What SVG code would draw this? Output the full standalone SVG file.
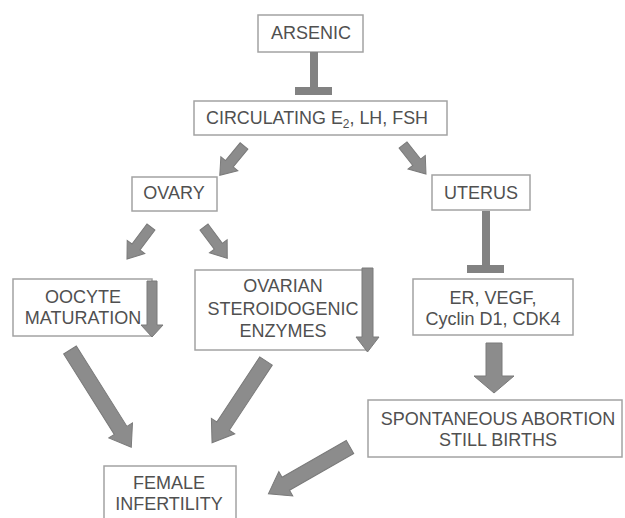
<svg xmlns="http://www.w3.org/2000/svg" width="625" height="518" viewBox="0 0 625 518">
  <style>
    .box { fill: #ffffff; stroke: #a3a3a3; stroke-width: 1.5; }
    .lbl { font-family: "Liberation Sans", Arial, sans-serif; font-size: 18px; fill: #505050; text-anchor: middle; }
    .arr { fill: #8c8c8c; stroke: #7a7a7a; stroke-width: 1; stroke-linejoin: miter; }
    .bar { fill: #828282; }
  </style>
  <rect width="625" height="518" fill="#ffffff"/>

  <!-- nodes -->
  <g id="arsenic">
    <rect class="box" x="258" y="15" width="105" height="37"/>
    <text class="lbl" x="311" y="39">ARSENIC</text>
  </g>
  <g id="circulating">
    <rect class="box" x="194" y="101" width="253" height="34"/>
    <text class="lbl" x="317" y="124" textLength="222" lengthAdjust="spacingAndGlyphs">CIRCULATING E<tspan font-size="12" dy="4">2</tspan><tspan dy="-4">, LH, FSH</tspan></text>
  </g>
  <g id="ovary">
    <rect class="box" x="132" y="177" width="85" height="34"/>
    <text class="lbl" x="174" y="199">OVARY</text>
  </g>
  <g id="uterus">
    <rect class="box" x="432" y="175" width="98" height="35"/>
    <text class="lbl" x="481" y="199">UTERUS</text>
  </g>
  <g id="oocyte">
    <rect class="box" x="13" y="279" width="139" height="57"/>
    <text class="lbl" x="83" y="303">OOCYTE</text>
    <text class="lbl" x="83" y="324">MATURATION</text>
  </g>
  <g id="ovarian">
    <rect class="box" x="195" y="270" width="172" height="80"/>
    <text class="lbl" x="283" y="292">OVARIAN</text>
    <text class="lbl" x="283" y="315">STEROIDOGENIC</text>
    <text class="lbl" x="283" y="337">ENZYMES</text>
  </g>
  <g id="er">
    <rect class="box" x="413" y="279" width="160" height="56"/>
    <text class="lbl" x="493" y="304">ER, VEGF,</text>
    <text class="lbl" x="493" y="325">Cyclin D1, CDK4</text>
  </g>
  <g id="abortion">
    <rect class="box" x="368" y="400" width="254" height="57"/>
    <text class="lbl" x="498" y="425">SPONTANEOUS ABORTION</text>
    <text class="lbl" x="498" y="446">STILL BIRTHS</text>
  </g>
  <g id="infertility">
    <rect class="box" x="104" y="466" width="132" height="70"/>
    <text class="lbl" x="169" y="489">FEMALE</text>
    <text class="lbl" x="169" y="510">INFERTILITY</text>
  </g>

  <!-- connectors -->
  <g id="connectors">
    <!-- inhibition bars -->
    <rect class="bar" x="310" y="52" width="8" height="36"/>
    <rect class="bar" x="295" y="87" width="37" height="8"/>
    <rect class="bar" x="482" y="211" width="8" height="55"/>
    <rect class="bar" x="467" y="265" width="37" height="8"/>

    <!-- block arrows: tail at origin, pointing along +x -->
    <path class="arr" transform="translate(244,146) rotate(129.6)" d="M0,-5 L23,-5 L23,-11 L38,0 L23,11 L23,5 L0,5 Z"/>
    <path class="arr" transform="translate(403,145) rotate(51.6)" d="M0,-5 L22,-5 L22,-11 L37,0 L22,11 L22,5 L0,5 Z"/>
    <path class="arr" transform="translate(151,227) rotate(126.9)" d="M0,-5 L25,-5 L25,-11 L40,0 L25,11 L25,5 L0,5 Z"/>
    <path class="arr" transform="translate(204,227) rotate(53.4)" d="M0,-5 L24,-5 L24,-11 L39,0 L24,11 L24,5 L0,5 Z"/>

    <path class="arr" transform="translate(152,281) rotate(90)" d="M0,-5 L44,-5 L44,-11 L56,0 L44,11 L44,5 L0,5 Z"/>
    <path class="arr" transform="translate(367.5,268) rotate(90)" d="M0,-5.5 L69,-5.5 L69,-11.5 L84,0 L69,11.5 L69,5.5 L0,5.5 Z"/>

    <path class="arr" transform="translate(494,343) rotate(90)" d="M0,-8 L33,-8 L33,-20 L50,0 L33,20 L33,8 L0,8 Z"/>

    <path class="arr" transform="translate(70,350) rotate(57.8)" d="M0,-7.5 L95,-7.5 L95,-14 L115,0 L95,14 L95,7.5 L0,7.5 Z"/>
    <path class="arr" transform="translate(266,361) rotate(123.4)" d="M0,-7.5 L78,-7.5 L78,-14 L98,0 L78,14 L78,7.5 L0,7.5 Z"/>
    <path class="arr" transform="translate(350,447) rotate(150.2)" d="M0,-7.5 L74,-7.5 L74,-14 L94,0 L74,14 L74,7.5 L0,7.5 Z"/>
  </g>
</svg>
